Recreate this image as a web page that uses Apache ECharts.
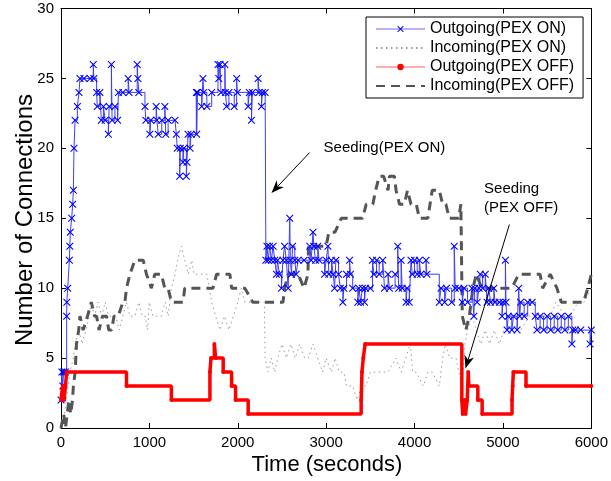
<!DOCTYPE html>
<html><head><meta charset="utf-8">
<script src="https://cdn.jsdelivr.net/npm/echarts@6/dist/echarts.min.js"></script>
<style>html,body{margin:0;padding:0;background:#fff}#c{width:611px;height:481px}</style>
</head><body><div id="c"></div><script>
// ---- data (time in seconds, number of connections) ----
const seriesNames = ['Outgoing(PEX ON)', 'Incoming(PEX ON)', 'Outgoing(PEX OFF)', 'Incoming(PEX OFF)'];

const outgoingPexOn = [[0,2],[10,4],[20,3],[30,4],[50,4],[64,8],[66,9],[76,10],[95,12],[100,13],[105,14],[121,15],[132,16],[140,17],[147,20],[159,22],[185,23],[204,24],[215,25],[260,25],[330,25],[365,26],[372,25],[403,24],[410,23],[440,24],[456,22],[480,23],[500,22],[536,21],[545,23],[570,26],[578,22],[610,23],[640,22],[650,24],[700,24],[760,25],[770,24],[862,26],[870,25],[880,24],[950,23],[960,22],[1005,21],[1015,22],[1077,23],[1085,22],[1100,21],[1140,22],[1175,23],[1185,21],[1212,22],[1290,22],[1305,21],[1315,20],[1343,18],[1350,20],[1380,19],[1390,20],[1418,18],[1425,19],[1437,21],[1460,20],[1471,21],[1531,24],[1535,21],[1545,24],[1592,23],[1606,25],[1615,24],[1650,23],[1705,24],[1776,26],[1785,25],[1800,26],[1810,24],[1854,26],[1860,24],[1874,23],[1900,24],[1960,23],[1987,25],[1995,24],[2117,23],[2130,24],[2155,22],[2165,24],[2230,25],[2240,24],[2268,23],[2278,24],[2310,24],[2318,12],[2330,13],[2345,12],[2360,13],[2380,12],[2400,13],[2418,12],[2438,11],[2450,12],[2470,11],[2494,10],[2510,12],[2530,13],[2550,12],[2570,10],[2588,15],[2595,12],[2607,11],[2620,13],[2645,12],[2660,11],[2682,12],[2750,12],[2815,13],[2830,12],[2851,14],[2860,13],[2880,12],[2905,13],[2920,12],[2982,11],[3000,12],[3020,13],[3030,11],[3060,12],[3080,11],[3095,10],[3110,12],[3140,11],[3160,10],[3189,9],[3200,10],[3230,11],[3265,12],[3275,11],[3300,10],[3358,9],[3370,10],[3390,9],[3410,10],[3434,9],[3445,10],[3500,10],[3524,12],[3540,11],[3570,12],[3600,11],[3640,12],[3660,10],[3700,11],[3716,10],[3780,11],[3810,13],[3820,10],[3848,12],[3860,10],[3904,9],[3915,10],[3940,9],[3960,12],[3975,11],[4000,12],[4030,11],[4054,12],[4070,11],[4130,12],[4140,11],[4280,9],[4300,10],[4340,9],[4360,10],[4420,9],[4449,13],[4460,10],[4500,10],[4540,9],[4560,10],[4600,9],[4650,10],[4671,8],[4680,10],[4708,9],[4730,10],[4744,11],[4770,10],[4800,11],[4820,9],[4840,10],[4860,9],[4897,10],[4910,9],[4960,9],[4990,8],[5000,9],[5028,12],[5035,9],[5047,7],[5060,8],[5100,7],[5120,8],[5160,7],[5179,10],[5190,8],[5200,9],[5240,8],[5280,9],[5330,9],[5366,8],[5385,7],[5420,8],[5460,7],[5500,8],[5540,7],[5580,8],[5620,7],[5660,8],[5700,7],[5740,8],[5780,6],[5790,7],[5820,7],[5880,7],[5986,6],[6000,7]];

const incomingPexOn = [[0,0],[40,1],[60,2],[80,3],[100,4],[140,5],[160,6],[200,7],[240,6],[280,7],[320,8],[340,9],[380,8],[420,9],[460,8],[500,9],[540,8],[580,8],[620,8],[660,7],[700,8],[740,9],[780,8],[836,8],[880,9],[920,8],[950,8],[980,7],[1000,9],[1040,8],[1080,8],[1136,8],[1180,9],[1212,8],[1249,10],[1290,11],[1320,12],[1362,13],[1400,12],[1440,11],[1480,12],[1505,11],[1560,11],[1600,11],[1650,11],[1705,9],[1750,8],[1800,7],[1850,8],[1900,7],[1950,8],[2000,9],[2040,10],[2080,9],[2150,9],[2200,9],[2300,9],[2310,5],[2340,4],[2380,5],[2418,4],[2452,5],[2500,6],[2550,5],[2600,6],[2650,5],[2700,6],[2757,5],[2800,5],[2850,6],[2905,5],[2960,4],[3000,5],[3060,4],[3100,5],[3150,4],[3200,4],[3230,3],[3300,3],[3350,2],[3400,3],[3450,3],[3500,4],[3560,4],[3620,4],[3700,4],[3790,5],[3850,4],[3900,5],[3950,6],[3980,4],[4017,4],[4100,3],[4150,4],[4200,4],[4280,3],[4318,5],[4350,6],[4400,5],[4470,5],[4500,4],[4540,3],[4570,6],[4600,7],[4650,8],[4700,7],[4750,6],[4800,7],[4850,6],[4900,7],[4960,6],[5010,7],[5100,7],[5200,7],[5300,8],[5400,8],[5535,8],[5600,9],[5700,8],[5761,8],[5850,9],[5920,9],[6000,10]];

const outgoingPexOff = [[0,2],[20,3],[35,2],[50,3],[64,4],[741,3],[1249,2],[1685,4],[1697,5],[1735,6],[1750,5],[1835,4],[1930,3],[1975,2],[2118,1],[3396,2],[3405,4],[3420,5],[3441,6],[4535,2],[4545,1],[4566,2],[4577,1],[4596,2],[4607,4],[4615,3],[4716,2],[4765,1],[5103,2],[5110,3],[5118,4],[5261,3],[6000,3]];

const incomingPexOff = [[0,0],[30,1],[50,0],[70,1],[90,2],[110,1],[130,2],[140,3],[160,4],[175,6],[200,7],[215,8],[250,7],[272,7],[300,8],[343,9],[380,8],[403,8],[430,7],[470,8],[516,8],[540,7],[572,7],[600,8],[647,8],[700,9],[723,9],[741,10],[780,11],[836,12],[930,12],[967,11],[1023,10],[1061,11],[1136,11],[1174,10],[1212,10],[1249,9],[1381,9],[1400,10],[1606,10],[1720,10],[1760,11],[1911,11],[1930,10],[2080,10],[2170,9],[2272,9],[2381,9],[2512,9],[2530,10],[2569,11],[2682,11],[2750,10],[2794,11],[2800,13],[2900,13],[3000,13],[3030,14],[3100,14],[3171,15],[3265,15],[3300,15],[3412,15],[3453,16],[3528,16],[3560,17],[3600,18],[3650,18],[3700,17],[3716,18],[3772,18],[3791,17],[3830,16],[3885,16],[3920,17],[3960,16],[4020,16],[4054,15],[4150,15],[4200,17],[4280,17],[4318,16],[4355,16],[4392,15],[4500,15],[4524,16],[4540,8],[4580,7],[4620,8],[4660,10],[4700,11],[4760,10],[4840,10],[4900,10],[5000,10],[5100,10],[5179,11],[5235,11],[5330,11],[5420,11],[5450,10],[5535,11],[5611,10],[5660,9],[5750,9],[5912,9],[5960,10],[6000,11]];

const annotations = [
  {lines: ['Seeding(PEX ON)'], text: [2971, 20], tail: [2813, 19.7], tip: [2381, 16.8]},
  {lines: ['Seeding', '(PEX OFF)'], text: [4787, 17.07], tail: [5073, 14.55], tip: [4576, 4.26]}
];

// ---- chart ----
const FONT = '"Liberation Sans", Arial, Helvetica, sans-serif';
const chart = echarts.init(document.getElementById('c'), null, {renderer: 'canvas'});
const axisCommon = {
  type: 'value',
  axisLine: {show: true, onZero: false, lineStyle: {color: '#000', width: 1}},
  axisTick: {show: true, inside: true, length: 5, lineStyle: {color: '#000'}},
  splitLine: {show: false}
};
const plain = v => String(v);
const xMain = Object.assign({}, axisCommon, {min: 0, max: 6000, interval: 1000, position: 'bottom',
  axisLabel: {fontSize: 15, color: '#000', fontFamily: FONT, margin: 7, formatter: plain}});
const xTop = Object.assign({}, axisCommon, {min: 0, max: 6000, interval: 1000, position: 'top', axisLabel: {show: false}});
const yMain = Object.assign({}, axisCommon, {min: 0, max: 30, interval: 5, position: 'left',
  axisLabel: {fontSize: 15, color: '#000', fontFamily: FONT, margin: 7, formatter: plain}});
const yRight = Object.assign({}, axisCommon, {min: 0, max: 30, interval: 5, position: 'right', axisLabel: {show: false}});

const xPath = 'path://M0,1L1,0L5,4L9,0L10,1L6,5L10,9L9,10L5,6L1,10L0,9L4,5Z';

chart.setOption({
  animation: false,
  backgroundColor: '#fff',
  grid: {left: 61, top: 8.5, width: 531.5, height: 419.5},
  xAxis: [xMain, xTop],
  yAxis: [yMain, yRight],
  legend: {
    orient: 'vertical', left: 366, top: 17,
    backgroundColor: '#fff', borderColor: '#000', borderWidth: 1,
    padding: [4, 9, 4, 9], itemGap: 3, itemWidth: 49, itemHeight: 8, itemTextGap: 6,
    textStyle: {fontSize: 16, color: '#000', fontFamily: FONT},
    data: [
      {name: seriesNames[0], lineStyle: {color: '#6f6fff', width: 1.2}},
      {name: seriesNames[1], itemStyle: {opacity: 0}},
      {name: seriesNames[2], lineStyle: {color: '#ff6060', width: 1.2}},
      {name: seriesNames[3], itemStyle: {opacity: 0}}
    ]
  },
  series: [
    {name: seriesNames[0], type: 'line', step: 'end', data: outgoingPexOn, z: 4,
     symbol: xPath, symbolSize: 7.5, showAllSymbol: true,
     lineStyle: {color: '#3d3dff', width: 1}, itemStyle: {color: '#0000ff'}},
    {name: seriesNames[1], type: 'line', data: incomingPexOn, z: 2, symbol: 'none',
     lineStyle: {color: '#9a9a9a', width: 1, type: [1.5, 3.5]}, itemStyle: {color: '#9a9a9a'}},
    {name: seriesNames[2], type: 'line', step: 'end', data: outgoingPexOff, z: 5,
     symbol: 'circle', symbolSize: 4, showAllSymbol: true,
     lineStyle: {color: '#ff0000', width: 3.5}, itemStyle: {color: '#ff0000'}},
    {name: seriesNames[3], type: 'line', data: incomingPexOff, z: 3, symbol: 'none',
     lineStyle: {color: '#555555', width: 3, type: [9, 6]}, itemStyle: {color: '#555555'}}
  ]
});

// annotations + axis titles
const g = [];
g.push({type: 'text', style: {text: 'Time (seconds)', x: 327, y: 465, fontSize: 22, fontFamily: FONT, fill: '#000', align: 'center', verticalAlign: 'middle'}});
g.push({type: 'text', rotation: Math.PI / 2, x: 25, y: 220, style: {text: 'Number of Connections', x: 0, y: 0, fontSize: 24, fontFamily: FONT, fill: '#000', align: 'center', verticalAlign: 'middle'}});
annotations.forEach(a => {
  const tp = chart.convertToPixel({gridIndex: 0}, a.text);
  a.lines.forEach((l, i) => {
    g.push({type: 'text', style: {text: l, x: tp[0], y: tp[1] + i * 18.5, fontSize: 15, fontFamily: FONT, fill: '#000', align: 'left', verticalAlign: 'middle'}, z: 10});
  });
  const p1 = chart.convertToPixel({gridIndex: 0}, a.tail);
  const p2 = chart.convertToPixel({gridIndex: 0}, a.tip);
  const dx = p2[0] - p1[0], dy = p2[1] - p1[1], L = Math.hypot(dx, dy);
  const ux = dx / L, uy = dy / L, nx = -uy, ny = ux;
  const hl = 13, hw = 5, notch = 9;
  const bx = p2[0] - ux * hl, by = p2[1] - uy * hl;
  g.push({type: 'line', shape: {x1: p1[0], y1: p1[1], x2: p2[0] - ux * notch, y2: p2[1] - uy * notch}, style: {stroke: '#000', lineWidth: 1}, z: 10});
  g.push({type: 'polygon', shape: {points: [[p2[0], p2[1]], [bx + nx * hw, by + ny * hw], [p2[0] - ux * notch, p2[1] - uy * notch], [bx - nx * hw, by - ny * hw]]}, style: {fill: '#000'}, z: 10});
});
chart.setOption({graphic: g});
</script></body></html>
